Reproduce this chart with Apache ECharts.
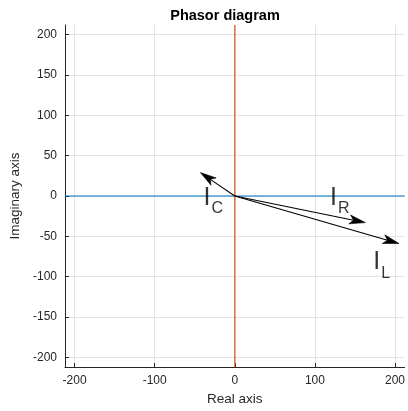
<!DOCTYPE html>
<html><head><meta charset="utf-8">
<script src="https://cdn.jsdelivr.net/npm/echarts@6/dist/echarts.min.js"></script>
<style>html,body{margin:0;padding:0;background:#fff}#c{width:408px;height:411px}</style>
</head><body><div id="c"></div>
<script>
// axis extents and tick labels
const axisRange = [-212, 212];
const xTicks = [-200, -100, 0, 100, 200];
const yTicks = [-200, -150, -100, -50, 0, 50, 100, 150, 200];
// phasors (tip coordinates, real / imaginary)
const phasorNames = ['C', 'R', 'L'];
const phasorReal = [-43, 163, 205];
const phasorImag = [29, -33, -59];
// label anchor points
const labelReal = [-39, 119, 173];
const labelImag = [-2, -2, -82];

const FONT = '"Liberation Sans", Arial, Helvetica, sans-serif';
const chart = echarts.init(document.getElementById('c'), null, {renderer: 'canvas'});

const axisCommon = {
  type: 'value', min: axisRange[0], max: axisRange[1],
  axisLine: {show: true, onZero: false, lineStyle: {color: '#262626', width: 1}},
  axisTick: {show: true, inside: true, length: 4, lineStyle: {color: '#262626'}},
  axisLabel: {color: '#262626', fontSize: 12, fontFamily: FONT, margin: 8},
  splitLine: {show: true, lineStyle: {color: '#e3e3e3', width: 1}},
  nameLocation: 'middle',
  nameTextStyle: {color: '#262626', fontSize: 13.5, fontFamily: FONT}
};

const xAxis = Object.assign({}, axisCommon, {
  name: 'Real axis', nameGap: 25,
  axisTick: Object.assign({}, axisCommon.axisTick, {customValues: xTicks}),
  axisLabel: Object.assign({}, axisCommon.axisLabel, {customValues: xTicks})
});
const yAxis = Object.assign({}, axisCommon, {
  name: 'Imaginary axis', nameGap: 36,
  axisTick: Object.assign({}, axisCommon.axisTick, {customValues: yTicks}),
  axisLabel: Object.assign({}, axisCommon.axisLabel, {customValues: yTicks})
});

function renderArrow(params, api) {
  const p0 = api.coord([0, 0]);
  const p1 = api.coord([api.value(0), api.value(1)]);
  const dx = p1[0] - p0[0], dy = p1[1] - p0[1];
  const len = Math.sqrt(dx * dx + dy * dy);
  const ux = dx / len, uy = dy / len;
  const nx = -uy, ny = ux;
  const L = 16, W = 4.5, N = 12;
  const base = [p1[0] - ux * L, p1[1] - uy * L];
  const notch = [p1[0] - ux * N, p1[1] - uy * N];
  return {
    type: 'group',
    children: [
      {type: 'line', shape: {x1: p0[0], y1: p0[1], x2: notch[0], y2: notch[1]},
       style: {stroke: '#000', lineWidth: 1.1}},
      {type: 'polygon', shape: {points: [
        p1, [base[0] + nx * W, base[1] + ny * W], notch, [base[0] - nx * W, base[1] - ny * W]]},
       style: {fill: '#000', stroke: '#000', lineWidth: 0.6}}
    ]
  };
}

const series = [
  {type: 'line', data: [[axisRange[0], 0], [axisRange[1], 0]], showSymbol: false, symbol: 'none',
   lineStyle: {color: '#0072BD', width: 1.2}, silent: true, z: 2},
  {type: 'line', data: [[0, axisRange[0]], [0, axisRange[1]]], showSymbol: false, symbol: 'none',
   lineStyle: {color: '#D95319', width: 1.2}, silent: true, z: 3},
  {type: 'custom', z: 5, renderItem: renderArrow, clip: false,
   data: phasorNames.map((n, i) => [phasorReal[i], phasorImag[i]])},
  {type: 'scatter', symbolSize: 0, z: 6,
   data: phasorNames.map((n, i) => ({value: [labelReal[i], labelImag[i]], name: n})),
   label: {show: true, position: 'right', distance: 0,
     formatter: p => '{a|I}{b|' + p.name + '}',
     rich: {
       a: {fontSize: 25, fontFamily: FONT, color: '#000'},
       b: {fontSize: 16, fontFamily: FONT, color: '#000', padding: [22, 0, 0, 1]}
     }}}
];

chart.setOption({
  animation: false,
  backgroundColor: '#fff',
  title: {text: 'Phasor diagram', left: 220, textAlign: 'center', top: 3,
    textStyle: {fontSize: 14.5, fontWeight: 'bold', color: '#000', fontFamily: FONT}},
  grid: {left: 65, right: 0, top: 25, bottom: 43, containLabel: false},
  xAxis: xAxis, yAxis: yAxis, series: series
});
</script></body></html>
